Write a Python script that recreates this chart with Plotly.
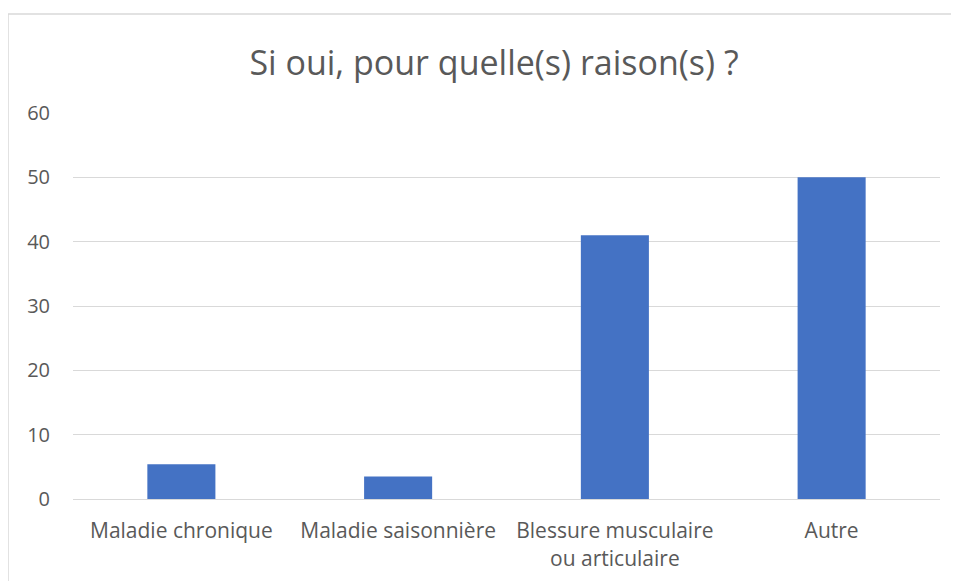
import plotly.graph_objects as go

categories = ["Maladie chronique", "Maladie saisonnière", "Blessure musculaire<br>ou articulaire", "Autre"]
values = [5.4, 3.5, 41, 50]
y_ticks = [0, 10, 20, 30, 40, 50, 60]
title_text = "Si oui, pour quelle(s) raison(s) ?"

OFF = 8  # page body margin
W, H = 959, 581
# target positions in screenshot pixels
PL, PR, PT, PB = 73, 940, 113, 499
L, R, T, B = PL - OFF, W - (PR - OFF), PT - OFF, H - (PB - OFF)
pw, ph = W - L - R, H - T - B

def px_x(x):
    return (x - OFF - L) / pw

def px_y(y):
    return (H - B - (y - OFF)) / ph

FONT = "Open Sans, sans-serif"

fig = go.Figure(go.Bar(
    x=categories, y=values,
    marker=dict(color="#4472C4", line=dict(width=0)),
    width=0.314,
))

fig.update_layout(
    width=W, height=H,
    margin=dict(l=L, r=R, t=T, b=B),
    paper_bgcolor="white", plot_bgcolor="white",
    title=dict(text=title_text, x=px_x(494), xref="paper", xanchor="center",
               y=1 - (63 - OFF) / H, yanchor="middle",
               font=dict(family=FONT, size=34, color="#595959")),
    showlegend=False,
    xaxis=dict(showgrid=False, showline=True, linecolor="#d9d9d9", linewidth=1,
               ticks="", tickfont=dict(family=FONT, size=21, color="#595959"),
               ticklabelstandoff=13, range=[-0.5, 3.5]),
    yaxis=dict(range=[0, 60], tickvals=y_ticks, showgrid=True, gridcolor="#d9d9d9",
               gridwidth=1, zeroline=False, showline=False, ticks="",
               tickfont=dict(family=FONT, size=20, color="#595959"),
               ticklabelstandoff=22),
    shapes=[
        dict(type="line", xref="paper", yref="paper",
             x0=px_x(8), x1=px_x(958), y0=px_y(14), y1=px_y(14),
             line=dict(color="#d9d9d9", width=1.5)),
        dict(type="line", xref="paper", yref="paper",
             x0=px_x(8), x1=px_x(8), y0=px_y(14), y1=px_y(600),
             line=dict(color="#d9d9d9", width=1.5)),
    ],
)

fig.write_html("out.html")
